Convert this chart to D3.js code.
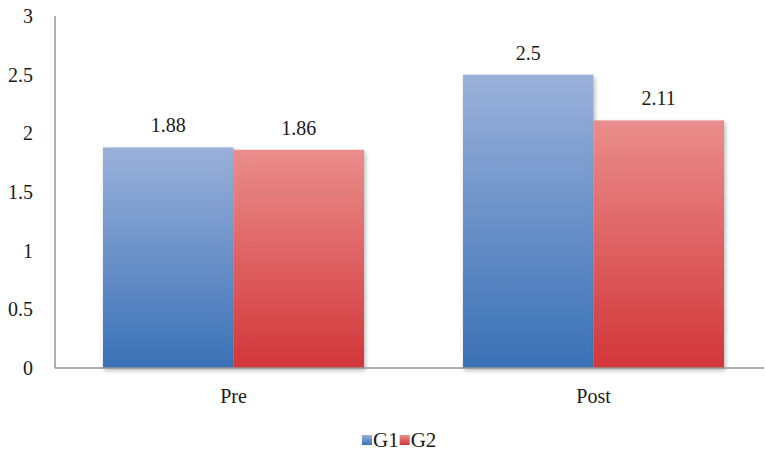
<!DOCTYPE html>
<html>
<head>
<meta charset="utf-8">
<script src="https://cdn.jsdelivr.net/npm/d3@7"></script>
<style>
  html, body { margin: 0; padding: 0; background: #fff; }
  svg { display: block; }
  svg text { font-family: 'Liberation Serif', 'Times New Roman', Times, serif; }
</style>
</head>
<body>
<svg id="chart" width="765" height="454"></svg>
<script>
// Grouped bar chart: mean scores for two groups, before and after.
const categories = ["Pre", "Post"];
const seriesNames = ["G1", "G2"];
const g1Values = [1.88, 2.5];
const g2Values = [1.86, 2.11];
const yTicks = [0, 0.5, 1, 1.5, 2, 2.5, 3];
const tickLabels = ["0", "0.5", "1", "1.5", "2", "2.5", "3"];

const seriesValues = [g1Values, g2Values];
const colors = {
  G1: { top: "#9ab1da", bottom: "#3a71b6" },
  G2: { top: "#ea8d8c", bottom: "#d2363a" }
};
const FONT = "'Liberation Serif', 'Times New Roman', Times, serif";

const svg = d3.select("#chart");
const axisLeftX = 55, axisRightX = 764;

const y = d3.scaleLinear().domain([0, 3]).range([368, 16]);
const x0 = d3.scaleBand().domain(categories).range([53.5, 773.5]).paddingInner(0).paddingOuter(0);
const groupPad = 49.5;
const x1 = d3.scaleBand().domain(seriesNames).range([groupPad, x0.bandwidth() - groupPad]).padding(0);

// Vertical gradients and soft shadow for the bars
const defs = svg.append("defs");
seriesNames.forEach(name => {
  const grad = defs.append("linearGradient")
    .attr("id", "grad-" + name)
    .attr("x1", 0).attr("y1", 0).attr("x2", 0).attr("y2", 1);
  grad.append("stop").attr("offset", "0%").attr("stop-color", colors[name].top);
  grad.append("stop").attr("offset", "100%").attr("stop-color", colors[name].bottom);
});
const shadow = defs.append("filter").attr("id", "barShadow")
  .attr("x", "-10%").attr("y", "-10%").attr("width", "125%").attr("height", "125%");
shadow.append("feDropShadow").attr("dx", 1.5).attr("dy", 2.5).attr("stdDeviation", 2)
  .attr("flood-color", "#000").attr("flood-opacity", 0.28);

// Bars
const groups = svg.append("g").selectAll("g")
  .data(categories)
  .join("g")
  .attr("transform", d => `translate(${x0(d)},0)`);

groups.selectAll("rect")
  .data((c, i) => seriesNames.map((s, j) => ({ series: s, value: seriesValues[j][i] })))
  .join("rect")
  .attr("x", d => x1(d.series))
  .attr("y", d => y(d.value))
  .attr("width", x1.bandwidth())
  .attr("height", d => y(0) - y(d.value))
  .attr("fill", d => `url(#grad-${d.series})`)
  .attr("filter", "url(#barShadow)");

// Value labels above the bars
groups.selectAll("text.value")
  .data((c, i) => seriesNames.map((s, j) => ({ series: s, value: seriesValues[j][i] })))
  .join("text")
  .attr("class", "value")
  .attr("x", d => x1(d.series) + x1.bandwidth() / 2)
  .attr("y", d => y(d.value) - 15)
  .attr("text-anchor", "middle")
  .attr("font-family", FONT)
  .attr("font-size", 20)
  .attr("fill", "#1a1a1a")
  .text(d => String(d.value));

// Axis lines
svg.append("line")
  .attr("x1", axisLeftX).attr("x2", axisLeftX)
  .attr("y1", y(3)).attr("y2", y(0))
  .attr("stroke", "#959595").attr("stroke-width", 1.5);
svg.append("line")
  .attr("x1", axisLeftX).attr("x2", axisRightX)
  .attr("y1", y(0)).attr("y2", y(0))
  .attr("stroke", "#959595").attr("stroke-width", 1.5);

// Y tick labels
svg.append("g").selectAll("text")
  .data(yTicks)
  .join("text")
  .attr("x", 33)
  .attr("y", d => y(d))
  .attr("dy", "0.35em")
  .attr("text-anchor", "end")
  .attr("font-family", FONT)
  .attr("font-size", 20)
  .attr("fill", "#1a1a1a")
  .text((d, i) => tickLabels[i]);

// Category labels
svg.append("g").selectAll("text")
  .data(categories)
  .join("text")
  .attr("x", d => x0(d) + x0.bandwidth() / 2)
  .attr("y", 403)
  .attr("text-anchor", "middle")
  .attr("font-family", FONT)
  .attr("font-size", 20)
  .attr("fill", "#1a1a1a")
  .text(d => d);

// Legend
const legend = svg.append("g").attr("transform", "translate(362,440)");
let lx = 0;
seriesNames.forEach(name => {
  legend.append("rect")
    .attr("x", lx).attr("y", -5).attr("width", 10).attr("height", 10)
    .attr("fill", `url(#grad-${name})`);
  const t = legend.append("text")
    .attr("x", lx + 11).attr("y", 0).attr("dy", "0.35em")
    .attr("font-family", FONT)
    .attr("font-size", 21).attr("fill", "#1a1a1a")
    .text(name);
  lx += 11 + t.node().getComputedTextLength() + 1;
});
</script>
</body>
</html>
